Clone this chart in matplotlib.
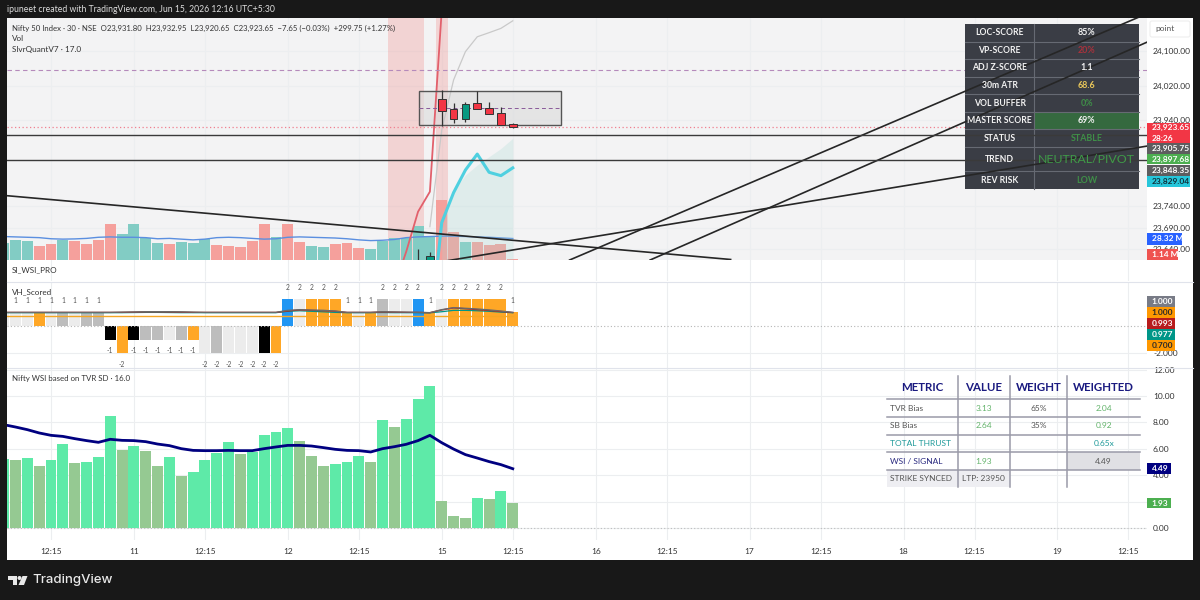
import matplotlib
matplotlib.use('Agg')
import matplotlib.pyplot as plt
import numpy as np
from matplotlib.patches import Rectangle, Polygon, Circle, FancyBboxPatch
from matplotlib.lines import Line2D
from matplotlib.transforms import Affine2D

plt.rcParams['font.family'] = ['Lato', 'DejaVu Sans']

# bar index, -1 is the half hidden bar on the left edge
bar_idx = list(range(-1, 43))

# time axis
time_ticks = [3, 10, 16, 23, 29, 36, 42, 49, 55, 62, 68, 75, 81, 88, 94]
time_labels = ['12:15', '11', '12:15', '12', '12:15', '15', '12:15', '16', '12:15',
               '17', '12:15', '18', '12:15', '19', '12:15']

# volume (millions) and direction
volume = [22.0, 25.7, 24.8, 17.6, 20.3, 25.7, 24.8, 21.2, 26.6, 48.6, 35.1, 47.7, 28.4, 22.0, 20.3,
          23.0, 22.0, 27.5, 19.4, 18.5, 16.7, 25.2, 47.7, 31.0, 48.6, 23.0, 18.0, 16.7, 21.2, 22.0,
          15.8, 14.0, 25.2, 28.4, 29.7, 45.0, 31.5, 81.0, 37.4, 23.4, 23.9, 19.4, 21.6, 1.14]
volume_dir = 'ggg' + 'rr' + 'g' + 'rrrr' + 'gggg' + 'r' + 'ggg' + 'rrrrr' + 'g' + 'rr' + 'gg' + 'rrr' + 'gggggg' + 'rr' + 'g' + 'rrrr'
volume_ma = [31.0, 30.5, 30.0, 29.5, 28.0, 27.5, 27.8, 28.5, 30.0, 30.5, 30.0, 30.0, 29.5, 28.0, 28.5,
             27.5, 26.5, 27.5, 29.5, 30.0, 29.5, 28.5, 27.5, 28.0, 30.0, 30.5, 30.0, 29.5, 29.0, 28.0,
             26.5, 25.5, 26.0, 27.0, 29.5, 30.5, 31.0, 31.5, 31.5, 31.0, 30.5, 30.0, 29.2, 28.32]

# candles
candle_idx = [34, 35, 36, 37, 38, 39, 40, 41, 42]
candle_open = [23590.0, 23600.0, 23988.7, 23964.8, 23943.0, 23978.7, 23967.0, 23955.5, 23931.8]
candle_high = [23640.0, 23634.7, 24009.6, 23978.7, 23981.0, 24007.3, 23981.8, 23969.4, 23932.95]
candle_low = [23590.0, 23600.0, 23926.0, 23932.3, 23934.6, 23965.5, 23954.0, 23929.2, 23920.65]
candle_close = [23610.0, 23625.6, 23961.7, 23943.0, 23976.4, 23965.5, 23954.7, 23929.2, 23923.65]

# SlvrQuant curves
red_idx = [32, 33, 34, 35, 36]
red_curve = [23553.6, 23634.8, 23727.5, 23773.9, 24195.0]
grey_idx = [35, 36, 37, 38, 39, 40, 41, 42]
grey_curve = [23692.7, 23916.8, 24032.8, 24098.5, 24133.0, 24142.5, 24152.5, 24170.0]
cyan_idx = [35, 36, 37, 38, 39, 40, 41, 42]
cyan_curve = [23445.0, 23702.0, 23771.6, 23824.0, 23861.0, 23818.7, 23811.0, 23829.04]
fill_idx = [36, 37, 38, 39, 40, 41, 42]
fill_top = [23685.0, 23776.0, 23812.5, 23835.7, 23855.0, 23874.0, 23897.68]

red_bands = [(31.5, 34.5), (35.5, 36.5)]
box_idx = (34.1, 46.1)
box_price = (23929.2, 24007.3)
box_mid = 23969.0
purple_level = 24056.0
last_price = 23923.65
levels = [23905.75, 23848.35]

# trend lines as (bar, price) ends
trend_lines = [
    ((-0.72, 23764.5), (60.4, 23616.6)),
    ((46.8, 23615.4), (94.9, 24178.8)),
    ((53.6, 23615.4), (95.6, 24120.9)),
    ((36.3, 23613.0), (95.6, 23879.7)),
]
price_ticks = [24100, 24020, 23940, 23740, 23690, 23640]

# VH_Scored
vh_levels = [1, 1, 1, 1, 1, 1, 1, 1, 1, -1, -2, -1, -1, -1, -1, -1, -1, -2, -2, -2, -2, -2, -2, -2,
             2, 2, 2, 2, 2, 1, 1, 1, 2, 2, 2, 2, 1, 2, 2, 2, 2, 2, 2, 1]
vh_colors = 'LLLOLGLGGKOKGGLGOLGLLLKOBLOOOOLOGLLBOLOOOOOO'[:44]
vh_grey = [1.0, 1.0, 1.0, 1.0, 1.0, 1.0, 1.0, 1.0, 1.0, 1.0, 1.02, 1.03, 1.05, 1.05, 1.05, 1.04, 1.02, 1.0,
           1.0, 1.0, 1.0, 1.0, 1.0, 1.0, 1.15, 1.2, 1.17, 1.15, 1.1, 1.0, 1.0, 1.0, 1.05, 1.03, 1.02, 1.0,
           0.98, 1.2, 1.35, 1.3, 1.25, 1.18, 1.1, 1.0]
vh_red = [1.0, 1.0, 1.0, 1.0, 1.0, 1.0, 1.0, 1.0, 1.0, 1.0, 1.0, 1.02, 1.04, 1.04, 1.03, 1.02, 1.0, 1.0,
          1.0, 1.0, 1.0, 1.0, 1.0, 1.0, 1.1, 1.18, 1.15, 1.12, 1.08, 1.0, 1.0, 1.0, 1.03, 1.02, 1.0, 1.0,
          0.98, 1.18, 1.33, 1.27, 1.2, 1.14, 1.06, 0.993]
vh_teal = [0.98, 0.98, 0.98, 0.98, 0.98, 0.98, 0.98, 0.98, 0.98, 0.98, 0.98, 0.99, 1.0, 1.0, 0.99, 0.98, 0.98,
           0.98, 0.98, 0.98, 0.98, 0.98, 0.98, 0.98, 1.08, 1.12, 1.08, 1.04, 1.0, 0.98, 0.98, 0.98, 0.99,
           0.98, 0.98, 0.98, 0.97, 1.05, 1.15, 1.15, 1.12, 1.08, 1.02, 0.977]
vh_orange = [0.7] * 44

# WSI pane
wsi = [5.2, 5.13, 5.28, 4.67, 5.18, 6.36, 4.92, 5.03, 5.38, 8.51, 5.93, 6.24, 5.86, 4.72, 5.38, 3.94,
       4.24, 5.18, 5.68, 6.52, 5.63, 5.73, 7.07, 7.3, 7.6, 6.57, 5.48, 4.67, 4.87, 4.97, 5.48, 4.97,
       8.2, 7.65, 8.26, 9.77, 10.73, 2.07, 0.93, 0.76, 2.3, 2.2, 2.8, 1.93]
wsi_kind = ['b', 's', 'b', 's', 'b', 'b', 's', 'b', 'b', 'b', 's', 'b', 's', 's', 'b', 's', 'b', 'b', 'b',
            'b', 's', 'b', 'b', 'b', 'b', 's', 's', 's', 'b', 'b', 'b', 's', 'b', 's', 'b', 'b', 'b', 's',
            's', 's', 'b', 's', 'b', 's']
wsi_signal = [7.83, 7.65, 7.45, 7.2, 7.02, 6.94, 6.77, 6.62, 6.49, 6.72, 6.64, 6.62, 6.54, 6.36, 6.24, 6.01,
              5.88, 5.86, 5.86, 5.88, 5.86, 5.86, 6.01, 6.14, 6.26, 6.26, 6.21, 6.09, 5.96, 5.88, 5.86, 5.76,
              6.01, 6.16, 6.34, 6.62, 7.02, 6.46, 5.98, 5.56, 5.3, 5.03, 4.8, 4.49]
wsi_ticks = [12, 10, 8, 6, 4, 2, 0]

# score table
score_names = ['LOC-SCORE', 'VP-SCORE', 'ADJ Z-SCORE', '30m ATR', 'VOL BUFFER', 'MASTER SCORE',
               'STATUS', 'TREND', 'REV RISK']
score_values = ['85%', '20%', '1.1', '68.6', '0%', '69%', 'STABLE', 'NEUTRAL/PIVOT', 'LOW']
score_colors = ['#f2f2f2', '#a8323c', '#f2f2f2', '#e8c65a', '#3f8f48', '#f2f2f2', '#3f8f48', '#3f9a48', '#3f8f48']

# metric table
metric_rows = [
    ['METRIC', 'VALUE', 'WEIGHT', 'WEIGHTED'],
    ['TVR Bias', '3.13', '65%', '2.04'],
    ['SB Bias', '2.64', '35%', '0.92'],
    ['TOTAL THRUST', '', '', '0.65x'],
    ['WSI / SIGNAL', '1.93', '', '4.49'],
    ['STRIKE SYNCED', 'LTP: 23950', '', ''],
]

# layout
W, H = 1200, 600
LEFT, RIGHT = 7, 1147
DX = 11.84
XMIN, XMAX = (LEFT - 15.5) / DX, (RIGHT - 15.5) / DX
GRID = '#eceef0'
FS = 6.0

fig = plt.figure(figsize=(12, 6), dpi=100, facecolor='#181818')
px = Affine2D().scale(1 / W, -1 / H).translate(0, 1) + fig.transFigure

fig.add_artist(Rectangle((7, 18), 1186, 542, transform=px, facecolor='white', edgecolor='none', zorder=-5))


def pane(top, bottom, color='none'):
    ax = fig.add_axes([LEFT / W, 1 - bottom / H, (RIGHT - LEFT) / W, (bottom - top) / H])
    ax.set_facecolor(color)
    ax.set_xlim(XMIN, XMAX)
    for s in ax.spines.values():
        s.set_visible(False)
    ax.set_axisbelow(True)
    ax.set_xticks(time_ticks)
    ax.tick_params(length=0, labelbottom=False, labelsize=FS, labelcolor='#333333')
    ax.yaxis.tick_right()
    ax.tick_params(axis='y', pad=4.3)
    ax.grid(True, color=GRID, lw=0.8)
    return ax


def badge(ax, x0, x1, y0, y1, color, lines, tcolor='white'):
    ax.add_patch(Rectangle((x0, y0), x1 - x0, y1 - y0, transform=px, facecolor=color, edgecolor='none',
                           clip_on=False, zorder=10))
    step = (y1 - y0) / len(lines)
    for n, t in enumerate(lines):
        ax.text(x0 + 4.5, y0 + step * (n + 0.5), t, transform=px, color=tcolor, fontsize=FS, fontweight='bold',
                ha='left', va='center', clip_on=False, zorder=11)


# ---- price pane
ax = pane(18, 259.5, '#f3f3f4')
p_top = 24100 + 33 / 0.4313
p_bot = 24100 - 208.5 / 0.4313
ax.set_ylim(p_bot, p_top)
ax.set_yticks(price_ticks)
ax.set_yticklabels(['{:,.2f}'.format(t) for t in price_ticks])

# volume has its own scale in the same pane
vol_ax = ax.twinx()
vol_ax.set_ylim(0, 241.5 * 1.35)
vol_ax.set_xlim(XMIN, XMAX)
vol_ax.axis('off')
vol_ax.bar(bar_idx, volume, width=0.92, color=['#82ccc4' if d == 'g' else '#f5a09c' for d in volume_dir], zorder=2)
vol_ax.plot(bar_idx, volume_ma, color='#5b8fe0', lw=1.0, zorder=3)

for b0, b1 in red_bands:
    vol_ax.axvspan(b0, b1, color='#ef5350', alpha=0.2, lw=0, zorder=1)

# curves and marks go on a top layer with the price scale
top = ax.twinx()
top.set_ylim(p_bot, p_top)
top.set_xlim(XMIN, XMAX)
top.axis('off')
# twinx moves the ticks of the host to the left
ax.yaxis.tick_right()
top.fill_between(fill_idx, p_bot, fill_top, color='#a6d8d2', alpha=0.25, lw=0, zorder=2)
top.plot(grey_idx, grey_curve, color='#c9c9c9', lw=0.9, zorder=3)
top.plot(red_idx, red_curve, color='#e2606c', lw=1.3, zorder=3)
top.plot(cyan_idx, cyan_curve, color='#4fd0e0', lw=2.2, zorder=4)

top.add_patch(Rectangle((box_idx[0], box_price[0]), box_idx[1] - box_idx[0], box_price[1] - box_price[0],
                        facecolor='#dcdcdc', alpha=0.65, edgecolor='none', zorder=2))
top.add_patch(Rectangle((box_idx[0], box_price[0]), box_idx[1] - box_idx[0], box_price[1] - box_price[0],
                        facecolor='none', edgecolor='#555555', lw=1.0, zorder=3))
top.plot(box_idx, [box_mid, box_mid], color='#8a5a9a', lw=0.7, ls=(0, (4, 3)), zorder=3)
top.axhline(purple_level, color='#b58abb', lw=0.8, ls=(0, (4, 3)), zorder=3)
top.axhline(last_price, color='#f08090', lw=0.9, ls=(0, (1, 2)), zorder=3)

# score table sits under the trend lines, its text above them
rows = [24, 41.7, 59.3, 76.7, 94.3, 112, 129.3, 147, 171.3, 189]
t_x0, t_mid, t_x1 = 965, 1034.3, 1139.3
top.add_patch(Rectangle((t_x0, rows[0]), t_x1 - t_x0, rows[-1] - rows[0], transform=px, facecolor='#3a3d45',
                        edgecolor='none', zorder=5))
top.add_patch(Rectangle((t_mid, rows[5]), t_x1 - t_mid, rows[6] - rows[5], transform=px, facecolor='#35693f',
                        edgecolor='none', zorder=5))
for r in rows[1:-1]:
    top.add_line(Line2D([t_x0, t_x1], [r, r], transform=px, color='#666a73', lw=0.8, zorder=5))
top.add_line(Line2D([t_mid, t_mid], [rows[0], rows[-1]], transform=px, color='#666a73', lw=0.8, zorder=5))

for p0, p1 in trend_lines:
    top.plot([p0[0], p1[0]], [p0[1], p1[1]], color='#262626', lw=1.2, zorder=6)
for lv in levels:
    top.axhline(lv, color='#3a3a3a', lw=1.0, zorder=6)

for n, name in enumerate(score_names):
    yc = (rows[n] + rows[n + 1]) / 2
    top.text((t_x0 + t_mid) / 2, yc, name, transform=px, color='#f2f2f2', fontsize=6.2, fontweight='bold',
             ha='center', va='center', zorder=7, clip_on=False)
    big = score_values[n] == 'NEUTRAL/PIVOT'
    top.text((t_mid + t_x1) / 2, yc, score_values[n], transform=px, color=score_colors[n], fontsize=8.9 if big else 6.4,
             fontweight='normal' if big else 'bold', ha='center', va='center', zorder=7, clip_on=False)

# candles
for n, i in enumerate(candle_idx):
    up = candle_close[n] >= candle_open[n]
    top.vlines(i, candle_low[n], candle_high[n], color='#333333', lw=0.9, zorder=8)
    top.bar(i, abs(candle_close[n] - candle_open[n]), bottom=min(candle_open[n], candle_close[n]), width=0.66,
            color='#089981' if up else '#f23645', edgecolor='#333333', lw=0.7, zorder=9)

badge(top, 1147, 1190, 122.7, 143.3, '#f23645', ['23,923.65', '28:26'])
badge(top, 1147, 1190, 143.3, 153.5, '#5d5d5f', ['23,905.75'])
badge(top, 1147, 1190, 154, 164.3, '#4caf50', ['23,897.68'])
badge(top, 1147, 1190, 165, 175.5, '#5d5d5f', ['23,848.35'])
badge(top, 1147, 1190, 176, 187, '#26c6da', ['23,829.04'], '#10303a')
badge(top, 1147, 1181.7, 233, 244.7, '#2962ff', ['28.32 M'])
badge(top, 1147, 1178, 249, 259.5, '#ef5350', ['1.14 M'])

top.add_patch(FancyBboxPatch((1150, 21), 40, 16, boxstyle='round,pad=0,rounding_size=2', transform=px,
                             facecolor='white', edgecolor='#eeeeee', lw=0.8, clip_on=False, zorder=10))
top.text(1155, 29, 'point', transform=px, color='#555555', fontsize=FS, va='center', clip_on=False, zorder=11)

# ---- empty SI pane
si = pane(260, 281)
si.set_ylim(0, 1)
si.set_yticks([])

# ---- VH_Scored
vh = pane(282, 368)
vh.set_ylim(-42 / 13.6, 44 / 13.6)
vh.set_yticks([-2])
vh.set_yticklabels(['-2.000'])
palette = {'L': '#ececec', 'G': '#bdbdbd', 'O': '#ffa726', 'K': '#000000', 'B': '#2196f3'}
vh.bar(bar_idx, vh_levels, width=0.92, color=[palette[c] for c in vh_colors], zorder=2)
vh.axhline(0, color='#b5b5b5', lw=0.8, ls=(0, (1, 2)), zorder=3)
vh.plot(bar_idx, vh_orange, color='#f5a623', lw=1.0, zorder=4)
vh.plot(bar_idx, vh_teal, color='#009688', lw=0.9, zorder=4)
vh.plot(bar_idx, vh_red, color='#b71c1c', lw=0.9, zorder=4)
vh.plot(bar_idx, vh_grey, color='#6a6a6a', lw=1.0, zorder=4)
for i, lv in zip(bar_idx, vh_levels):
    if i >= 0:
        vh.text(i, lv + (0.85 if lv > 0 else -0.8), str(lv), color='#555555', fontsize=4.8,
                ha='center', va='center', zorder=5)
badge(vh, 1147, 1175, 296, 306.7, '#787b86', ['1.000'])
badge(vh, 1147, 1175, 306.7, 317.7, '#ff9800', ['1.000'], '#2a2a2a')
badge(vh, 1147, 1175, 317.7, 328.7, '#b71c1c', ['0.993'])
badge(vh, 1147, 1175, 328.7, 340, '#009688', ['0.977'])
badge(vh, 1147, 1175, 340, 351, '#ff9800', ['0.700'], '#2a2a2a')

# ---- WSI pane
ws = pane(368, 540)
ws.set_ylim(-12 / 13.2, 160 / 13.2)
ws.set_yticks(wsi_ticks)
ws.set_yticklabels(['{:.2f}'.format(t) if t != 2 else '' for t in wsi_ticks])
ws.bar(bar_idx, wsi, width=0.92, color=['#5eeaa8' if k == 'b' else '#95c992' for k in wsi_kind], zorder=2)
ws.plot(bar_idx, wsi_signal, color='#000080', lw=2.0, zorder=4)
ws.axhline(0, color='#bdbdbd', lw=0.8, ls=(0, (1, 2)), zorder=1)
ws.set_xticklabels(time_labels)
ws.tick_params(axis='x', labelbottom=True, pad=5.5)
badge(ws, 1147, 1171, 463.3, 474.3, '#000080', ['4.49'])
badge(ws, 1147, 1171, 498, 508.3, '#4caf50', ['1.93'])

# metric table
m_x = [887.3, 957.7, 1010, 1067.3, 1140]
m_y = [376, 399.3, 417, 434.7, 452.3, 470, 487.3]
ws.add_patch(Rectangle((m_x[3], m_y[4]), m_x[4] - m_x[3], m_y[5] - m_y[4], transform=px, facecolor='#e0e0e4',
                       edgecolor='none', clip_on=False, zorder=5))
ws.add_patch(Rectangle((m_x[0], m_y[5]), m_x[2] - m_x[0], m_y[6] - m_y[5], transform=px, facecolor='#eeeef2',
                       edgecolor='none', clip_on=False, zorder=5))
for y in m_y[1:-1]:
    ws.add_line(Line2D([m_x[0], m_x[4]], [y, y], transform=px, color='#9a9aa8', lw=1.1, zorder=6, clip_on=False))
for x in m_x[1:-1]:
    ws.add_line(Line2D([x, x], [m_y[0], m_y[-1]], transform=px, color='#9a9aa8', lw=1.1, zorder=6, clip_on=False))

GREEN, GREY, TEAL, NAVY = '#62b36a', '#555555', '#1f9a9a', '#2a2a80'
metric_colors = [
    ['#1a1a80'] * 4,
    [GREY, GREEN, GREY, GREEN],
    [GREY, GREEN, GREY, GREEN],
    [TEAL, TEAL, TEAL, TEAL],
    [NAVY, GREEN, GREY, GREY],
    [GREY, GREY, GREY, GREY],
]
for r, row in enumerate(metric_rows):
    yc = (m_y[r] + m_y[r + 1]) / 2
    for c, txt in enumerate(row):
        if r > 0 and c == 0:
            xt, ha = m_x[0] + 3, 'left'
        else:
            xt, ha = (m_x[c] + m_x[c + 1]) / 2, 'center'
        ws.text(xt, yc, txt, transform=px, color=metric_colors[r][c], ha=ha, va='center', clip_on=False, zorder=7,
                fontsize=8.3 if r == 0 else FS, fontweight='bold' if r == 0 else 'normal')

# pane separators and titles
for y in [281.5, 368]:
    fig.add_artist(Line2D([7, 1193], [y, y], transform=px, color='#e0e3eb', lw=0.8))

fig.text(7, 9, 'ipuneet created with TradingView.com, Jun 15, 2026 12:16 UTC+5:30', transform=px, color='#dddddd',
         fontsize=6.2, va='center')
title = 'Nifty 50 Index · 30 · NSE  O23,931.80  H23,932.95  L23,920.65  C23,923.65  −7.65 (−0.03%)  +299.75 (+1.27%)'
fig.text(12, 28, title, transform=px, color='#333333', fontsize=5.6, va='center')
fig.text(12, 38.5, 'Vol', transform=px, color='#333333', fontsize=5.9, va='center')
fig.text(12, 49.5, 'SlvrQuantV7 · 17.0', transform=px, color='#333333', fontsize=5.9, va='center')
fig.text(12, 270, 'SI_WSI_PRO', transform=px, color='#333333', fontsize=5.9, va='center')
fig.text(12, 292, 'VH_Scored', transform=px, color='#333333', fontsize=5.9, va='center')
fig.text(12, 378.5, 'Nifty WSI based on TVR SD · 16.0', transform=px, color='#333333', fontsize=5.7, va='center')

# footer logo
logo = '#e8e8e8'
fig.add_artist(Polygon([(8, 576), (17, 576), (17, 585), (12.5, 585), (12.5, 580), (8, 580)], closed=True,
                       transform=px, facecolor=logo, edgecolor='none'))
fig.add_artist(Circle((19.5, 578), 2, transform=px, facecolor=logo, edgecolor='none'))
fig.add_artist(Polygon([(22.5, 576), (27.5, 576), (24, 585), (18.5, 585)], closed=True,
                       transform=px, facecolor=logo, edgecolor='none'))
fig.text(32, 580.5, 'TradingView', transform=px, color=logo, fontsize=9.5, fontweight='medium',
         family=['Inter', 'DejaVu Sans'], va='center')

fig.savefig('out.png', dpi=100, facecolor=fig.get_facecolor())
